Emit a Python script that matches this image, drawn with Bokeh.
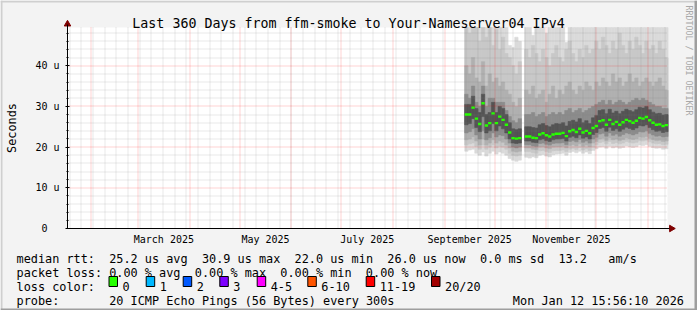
import math
import numpy as np
import pandas as pd
from bokeh.plotting import figure
from bokeh.models import (Range1d, FixedTicker, DatetimeTickFormatter, CustomJSTickFormatter,
                          LinearAxis, DatetimeAxis, ColumnDataSource)
from bokeh.core.properties import value
from bokeh.embed import file_html
from bokeh.resources import INLINE

nan = float("nan")

# ---------------- data ----------------
end_time = pd.Timestamp("2026-01-12 15:56:10")
start_time = end_time - pd.Timedelta(days=360)
sample_dates = pd.date_range("2025-09-13", periods=61, freq="2D")
step = pd.Timedelta(days=2)

# median rtt (microseconds), one value per 2-day sample
median = [28.0, 28.0, 29.7, 27.0, 25.7, 30.8, 25.3, 25.9, 28.3, 25.9,
          27.5, 26.7, 25.5, 23.6, 22.2, 22.1, 22.2, nan, 22.6, 22.6,
          22.3, 22.2, 23.1, 23.4, 22.9, 22.6, 23.1, 23.3, 23.3, 23.5,
          22.7, 23.9, 24.2, 23.7, 24.5, 23.6, 24.0, 23.4, 24.7, 25.2,
          26.4, 26.6, 25.5, 26.7, 25.7, 26.2, 25.5, 26.1, 26.7, 26.4,
          26.0, 26.5, 27.2, 27.0, 27.4, 26.6, 26.0, 25.5, 25.6, 25.2, 25.4]

# smoke: ping distribution bands (outer -> inner), microseconds
hi1 = [56, 56, 56, 56, 56, 56, 56, 56, 56, 56, 56, 56, 56,
       45, 44.5, 47, 46, nan,
       56, 56, 47.5, 56, 56, 56, 48, 56, 56, 56, 56, 56, 45.7, 56, 56, 56, 56, 56, 56, 56, 56,
       56, 56, 56, 56, 56, 56, 56, 56, 56, 56, 56, 56, 56, 56, 56, 56, 56, 56, 56, 56, 56, 56]
hi2 = [52, 48, 52, 50, 46, 52, 47, 50, 45, 49, 44, 47, 43,
       42, 40, 38, 41, nan,
       44, 42, 45, 43, 41, 44, 42, 40, 43, 45, 42, 41, 44, 46, 43, 41, 44, 42, 45, 43, 44,
       46, 44, 47, 45, 43, 46, 44, 48, 45, 43, 46, 44, 47, 45, 43, 46, 44, 45, 43, 46, 44, 42]
hi3 = [40, 38, 42, 37, 36, 41, 35, 38, 36, 37, 35, 36, 34,
       33, 31, 30, 32, nan,
       34, 33, 35, 32, 33, 34, 31, 33, 35, 32, 34, 33, 35, 36, 34, 33, 35, 34, 36, 35, 34,
       36, 35, 37, 36, 35, 38, 36, 37, 35, 36, 38, 36, 37, 35, 36, 37, 36, 35, 36, 37, 35, 34]
hi4 = [33, 32, 35, 31, 30, 35, 30, 32, 32, 31, 31, 31, 29,
       27.5, 26.5, 26, 27, nan,
       28, 28, 28.5, 27.5, 28, 28.5, 27.5, 28, 28.5, 28, 28.5, 28, 29, 29.5, 28.5, 29, 29.5, 28.5, 29, 29.5, 30,
       30.5, 31, 31.5, 30.5, 31.5, 30.5, 31, 31.5, 31, 30.5, 31, 31.5, 32, 31.5, 32, 31.5, 31, 30.5, 30, 30, 29.5, 29.5]
hi5 = [30.5, 30.5, 32.5, 29.5, 28.5, 33.0, 28.0, 28.5, 31.0, 28.5, 30.0, 29.5, 28.0,
       26.0, 24.5, 24.3, 24.5, nan,
       25.0, 25.0, 24.8, 24.7, 25.5, 25.8, 25.3, 25.0, 25.5, 25.8, 25.7, 26.0, 25.2, 26.3, 26.6, 26.2, 27.0, 26.0, 26.5, 25.8, 27.2,
       27.8, 29.0, 29.2, 28.2, 29.3, 28.4, 28.8, 28.2, 28.8, 29.3, 29.0, 28.7, 29.2, 29.8, 29.6, 30.0, 29.2, 28.6, 28.2, 28.3, 27.9, 28.0]
lo5 = [25.5, 25.8, 27.0, 24.8, 23.8, 27.5, 23.5, 24.0, 25.8, 24.0, 25.2, 24.5, 23.5,
       22.0, 21.0, 20.9, 21.0, nan,
       21.5, 21.5, 21.2, 21.1, 21.8, 22.0, 21.6, 21.4, 21.8, 22.0, 22.0, 22.1, 21.5, 22.4, 22.7, 22.3, 23.0, 22.2, 22.5, 22.0, 23.1,
       23.6, 24.6, 24.8, 23.9, 24.9, 24.1, 24.5, 23.9, 24.4, 24.9, 24.6, 24.3, 24.7, 25.3, 25.2, 25.5, 24.8, 24.3, 23.9, 24.0, 23.6, 23.8]
lo4 = [23.5, 23.8, 24.5, 23.0, 22.0, 24.0, 21.8, 22.3, 23.5, 22.5, 23.0, 22.8, 22.0,
       21.0, 20.0, 19.8, 20.0, nan,
       20.6, 20.6, 20.3, 20.2, 20.9, 21.0, 20.7, 20.5, 20.9, 21.0, 21.0, 21.1, 20.6, 21.4, 21.6, 21.3, 21.9, 21.2, 21.5, 21.0, 22.0,
       22.4, 23.2, 23.4, 22.7, 23.5, 22.9, 23.2, 22.7, 23.1, 23.5, 23.3, 23.0, 23.3, 23.8, 23.7, 24.0, 23.4, 23.0, 22.7, 22.8, 22.5, 22.6]
lo3 = [21.8, 22.0, 22.5, 21.5, 20.5, 22.0, 20.5, 21.0, 21.8, 21.0, 21.5, 21.2, 20.5,
       19.8, 19.0, 18.8, 19.0, nan,
       19.8, 19.8, 19.5, 19.4, 20.0, 20.1, 19.8, 19.6, 20.0, 20.1, 20.1, 20.2, 19.8, 20.4, 20.6, 20.3, 20.8, 20.2, 20.5, 20.1, 21.0,
       21.4, 22.0, 22.2, 21.6, 22.3, 21.8, 22.0, 21.6, 21.9, 22.3, 22.1, 21.9, 22.1, 22.5, 22.4, 22.6, 22.2, 21.9, 21.6, 21.7, 21.4, 21.5]
lo2 = [20.5, 20.8, 21.0, 20.2, 19.5, 20.5, 19.5, 20.0, 20.5, 19.8, 20.2, 20.0, 19.5,
       18.5, 18.0, 17.8, 18.0, nan,
       18.9, 18.9, 18.6, 18.5, 19.1, 19.2, 18.9, 18.7, 19.1, 19.2, 19.2, 19.3, 18.9, 19.5, 19.7, 19.4, 19.9, 19.3, 19.6, 19.2, 20.0,
       20.6, 21.1, 21.3, 20.8, 21.4, 20.9, 21.1, 20.8, 21.0, 21.4, 21.2, 21.0, 21.2, 21.6, 21.5, 21.7, 21.3, 21.0, 20.8, 20.9, 20.6, 20.7]
lo1 = [19.0, 19.3, 19.5, 18.5, 18.0, 18.8, 17.8, 18.5, 19.0, 18.3, 18.8, 18.5, 18.0,
       17.2, 16.8, 16.5, 16.8, nan,
       17.5, 17.3, 17.6, 17.4, 18.0, 18.2, 17.8, 17.6, 18.1, 18.3, 18.4, 18.5, 18.0, 18.7, 18.9, 18.6, 19.0, 18.5, 18.8, 18.4, 19.2,
       19.6, 20.0, 20.1, 19.7, 20.2, 19.8, 20.0, 19.7, 19.9, 20.3, 20.1, 19.9, 20.1, 20.5, 20.4, 20.6, 20.2, 19.9, 19.7, 19.8, 19.5, 19.6]

y_ticks = [0, 10, 20, 30, 40]
y_minor = [2, 4, 6, 8, 12, 14, 16, 18, 22, 24, 26, 28, 32, 34, 36, 38, 42, 44, 46, 48]
x_label_months = ["2025-03", "2025-05", "2025-07", "2025-09", "2025-11"]

title_text = "Last 360 Days from ffm-smoke to Your-Nameserver04 IPv4"
legend_line1 = [(0, "median rtt:"), (13, "25.2 us avg"), (26, "30.9 us max"), (39, "22.0 us min"),
                (52, "26.0 us now"), (65, "0.0 ms sd"), (76, "13.2"), (83, "am/s")]
legend_line2 = [(0, "packet loss:"), (13, "0.00 % avg"), (25, "0.00 % max"), (37, "0.00 % min"), (49, "0.00 % now")]
legend_line3 = [(0, "loss color:")]
legend_line4 = [(0, "probe:"), (13, "20 ICMP Echo Pings (56 Bytes) every 300s")]
timestamp_text = "Mon Jan 12 15:56:10 2026"
watermark_text = "RRDTOOL / TOBI OETIKER"
y_axis_title = "Seconds"
loss_labels = ["0", "1", "2", "3", "4-5", "6-10", "11-19", "20/20"]
loss_colors = ["#26ff00", "#00b8ff", "#0059ff", "#7e00ff", "#ff00ff", "#ff5500", "#ff0000", "#a10000"]

# ---------------- layout helpers ----------------
def ms(ts):
    return pd.Timestamp(ts).value / 1e6

MONO = "DejaVu Sans Mono"
W, H = 697, 310
FL, FR, FT, FB = 67, 667, 27, 228      # plot area edges in canvas pixels
Y_TOP = 49.4
X_START, X_END = ms(start_time), ms(end_time)
MPP = (X_END - X_START) / (FR - FL)    # ms per pixel
UPX = Y_TOP / (FB - FT)                # value units per pixel

def x_of(px):
    return X_START + (px - FL) * MPP

def y_of(py):
    return (FB - py) * UPX

def px_of(x):
    return FL + (x - X_START) / MPP

def py_of(y):
    return FB - y / UPX

def snap(v):
    return math.floor(v) + 0.5

p = figure(width=W, height=H, output_backend="svg", toolbar_location=None, title=None,
           x_axis_location=None, y_axis_location=None,
           x_range=Range1d(x_of(0), x_of(W)), y_range=Range1d(y_of(H), y_of(0)),
           min_border=0)
p.grid.visible = False
p.background_fill_color = "#f3f3f3"
p.border_fill_color = "#f3f3f3"
p.outline_line_color = None

# white plot canvas
p.quad(left=[X_START], right=[X_END], bottom=[0], top=[Y_TOP], fill_color="white", line_color=None)

# smoke
def capped(a):
    return np.minimum(np.array(a, dtype=float), Y_TOP)

src = ColumnDataSource(dict(
    left=[ms(t) for t in sample_dates], right=[ms(t + step) for t in sample_dates],
    center=[ms(t + step / 2) for t in sample_dates],
    median=median,
    lo1=lo1, hi1=capped(hi1), lo2=lo2, hi2=capped(hi2), lo3=lo3, hi3=capped(hi3),
    lo4=lo4, hi4=capped(hi4), lo5=lo5, hi5=capped(hi5)))
band_colors = ["#dadada", "#c8c8c8", "#b0b0b0", "#8c8c8c", "#545454"]
for i, col in enumerate(band_colors, start=1):
    p.quad(left="left", right="right", bottom=f"lo{i}", top=f"hi{i}", source=src,
           fill_color=col, line_color=col, line_width=0.6)

# grid (dotted, on top of smoke)
month_starts = pd.date_range("2025-02-01", "2026-01-01", freq="MS")
weeks = pd.date_range("2025-01-19", "2026-01-11", freq="W-SUN")
wk_x = [x_of(snap(px_of(ms(t)))) for t in weeks]
mo_x = [x_of(snap(px_of(ms(t)))) for t in month_starts]
mn_y = [y_of(snap(py_of(v))) for v in y_minor]
mj_y = [y_of(snap(py_of(v))) for v in y_ticks[1:]]
minor_kw = dict(line_color="#808080", line_alpha=0.35, line_width=1, line_dash="1 1")
major_kw = dict(line_color="#ff0000", line_alpha=0.35, line_width=1, line_dash="1 1")
p.segment(x0=wk_x, x1=wk_x, y0=[0] * len(wk_x), y1=[Y_TOP] * len(wk_x), **minor_kw)
p.segment(x0=[X_START] * len(mn_y), x1=[X_END] * len(mn_y), y0=mn_y, y1=mn_y, **minor_kw)
p.segment(x0=mo_x, x1=mo_x, y0=[0] * len(mo_x), y1=[Y_TOP] * len(mo_x), **major_kw)
p.segment(x0=[X_START] * len(mj_y), x1=[X_END] * len(mj_y), y0=mj_y, y1=mj_y, **major_kw)

# median (loss colour 0)
step_ms = ms(sample_dates[1]) - ms(sample_dates[0])
p.rect(x="center", y="median", width=step_ms, height=2.4, height_units="screen", source=src,
       fill_color=loss_colors[0], line_color=None)

# axes placed at fixed locations inside the canvas
yax = LinearAxis(fixed_location=X_START, bounds=(0, y_of(24)),
                 ticker=FixedTicker(ticks=y_ticks, minor_ticks=y_minor),
                 formatter=CustomJSTickFormatter(code="return tick == 0 ? '0\\u00a0\\u00a0' : tick.toFixed(0) + ' u';"))
yax.major_label_text_font = MONO
yax.major_label_text_font_size = "10px"
yax.major_label_text_color = "black"
yax.major_label_standoff = 6
yax.major_tick_in = 2
yax.major_tick_out = 2
yax.minor_tick_in = 1
yax.minor_tick_out = 1
yax.axis_line_color = "black"
p.add_layout(yax, "left")

mid_ticks = []
for m in x_label_months:
    a = pd.Timestamp(m + "-01")
    b = a + pd.offsets.MonthBegin(1)
    mid_ticks.append(ms(a + (b - a) / 2))
fmt = "%B %Y"
xax = DatetimeAxis(fixed_location=0, bounds=(X_START, x_of(669)),
                   ticker=FixedTicker(ticks=mid_ticks),
                   formatter=DatetimeTickFormatter(microseconds=fmt, milliseconds=fmt, seconds=fmt, minsec=fmt,
                                                   minutes=fmt, hourmin=fmt, hours=fmt, days=fmt,
                                                   months=fmt, years=fmt))
xax.major_label_text_font = MONO
xax.major_label_text_font_size = "10px"
xax.major_label_text_color = "black"
xax.major_tick_line_color = None
xax.minor_tick_line_color = None
xax.major_tick_out = 0
xax.major_tick_in = 0
xax.major_label_standoff = 5
xax.axis_line_color = "black"
p.add_layout(xax, "below")

# axis arrow heads
p.scatter(x=[x_of(67)], y=[y_of(23.6)], marker="triangle", size=6.5,
          fill_color="#7f0000", line_color="#7f0000")
p.scatter(x=[x_of(671)], y=[0], marker="triangle", size=6.5, angle=-math.pi / 2,
          fill_color="#7f0000", line_color="#7f0000")

# texts
def texts(items, size, align="left", baseline="alphabetic", color="black", angle=0.0):
    p.text(x=[x_of(a) for a, b, t in items], y=[y_of(b) for a, b, t in items],
           text=[t for a, b, t in items], text_font=value(MONO), text_font_size=value(size),
           text_align=align, text_baseline=baseline, text_color=color, angle=angle)

texts([(348, 23, title_text)], "13.3px", align="center")
CW, X0 = 7.13, 16
rows = []
for base, line in ((258, legend_line1), (272, legend_line2), (286, legend_line3), (300, legend_line4)):
    for col, txt in line:
        rows.append((X0 + col * CW, base, txt))
box_x = [108.5, 145.7, 182.7, 219.3, 256.7, 307.3, 365.7, 431.0]
for bx, lbl in zip(box_x, loss_labels):
    rows.append((bx + 13.5, 286, lbl))
texts(rows, "11.85px")
texts([(683.5, 300, timestamp_text)], "11.85px", align="right")
texts([(688, 5, watermark_text)], "8.3px", baseline="middle", color="#a8a8a8", angle=-math.pi / 2)
texts([(11, 127.5, y_axis_title)], "11.85px", align="center", baseline="middle", angle=math.pi / 2)

# loss colour swatches
p.quad(left=[x_of(bx) for bx in box_x], right=[x_of(bx + 8.5) for bx in box_x],
       top=[y_of(276)] * len(box_x), bottom=[y_of(286)] * len(box_x),
       fill_color=loss_colors, line_color="black", line_width=1)

# canvas shade border
shade = [(0, W, 0, 2, "#cfcfcf"), (0, 2, 0, H, "#cfcfcf"), (0, W, H - 2, H, "#9e9e9e"), (W - 3, W, 0, H, "#9e9e9e")]
p.quad(left=[x_of(s[0]) for s in shade], right=[x_of(s[1]) for s in shade],
       top=[y_of(s[2]) for s in shade], bottom=[y_of(s[3]) for s in shade],
       fill_color=[s[4] for s in shade], line_color=None)

open("out.html", "w").write(file_html(p, INLINE))
